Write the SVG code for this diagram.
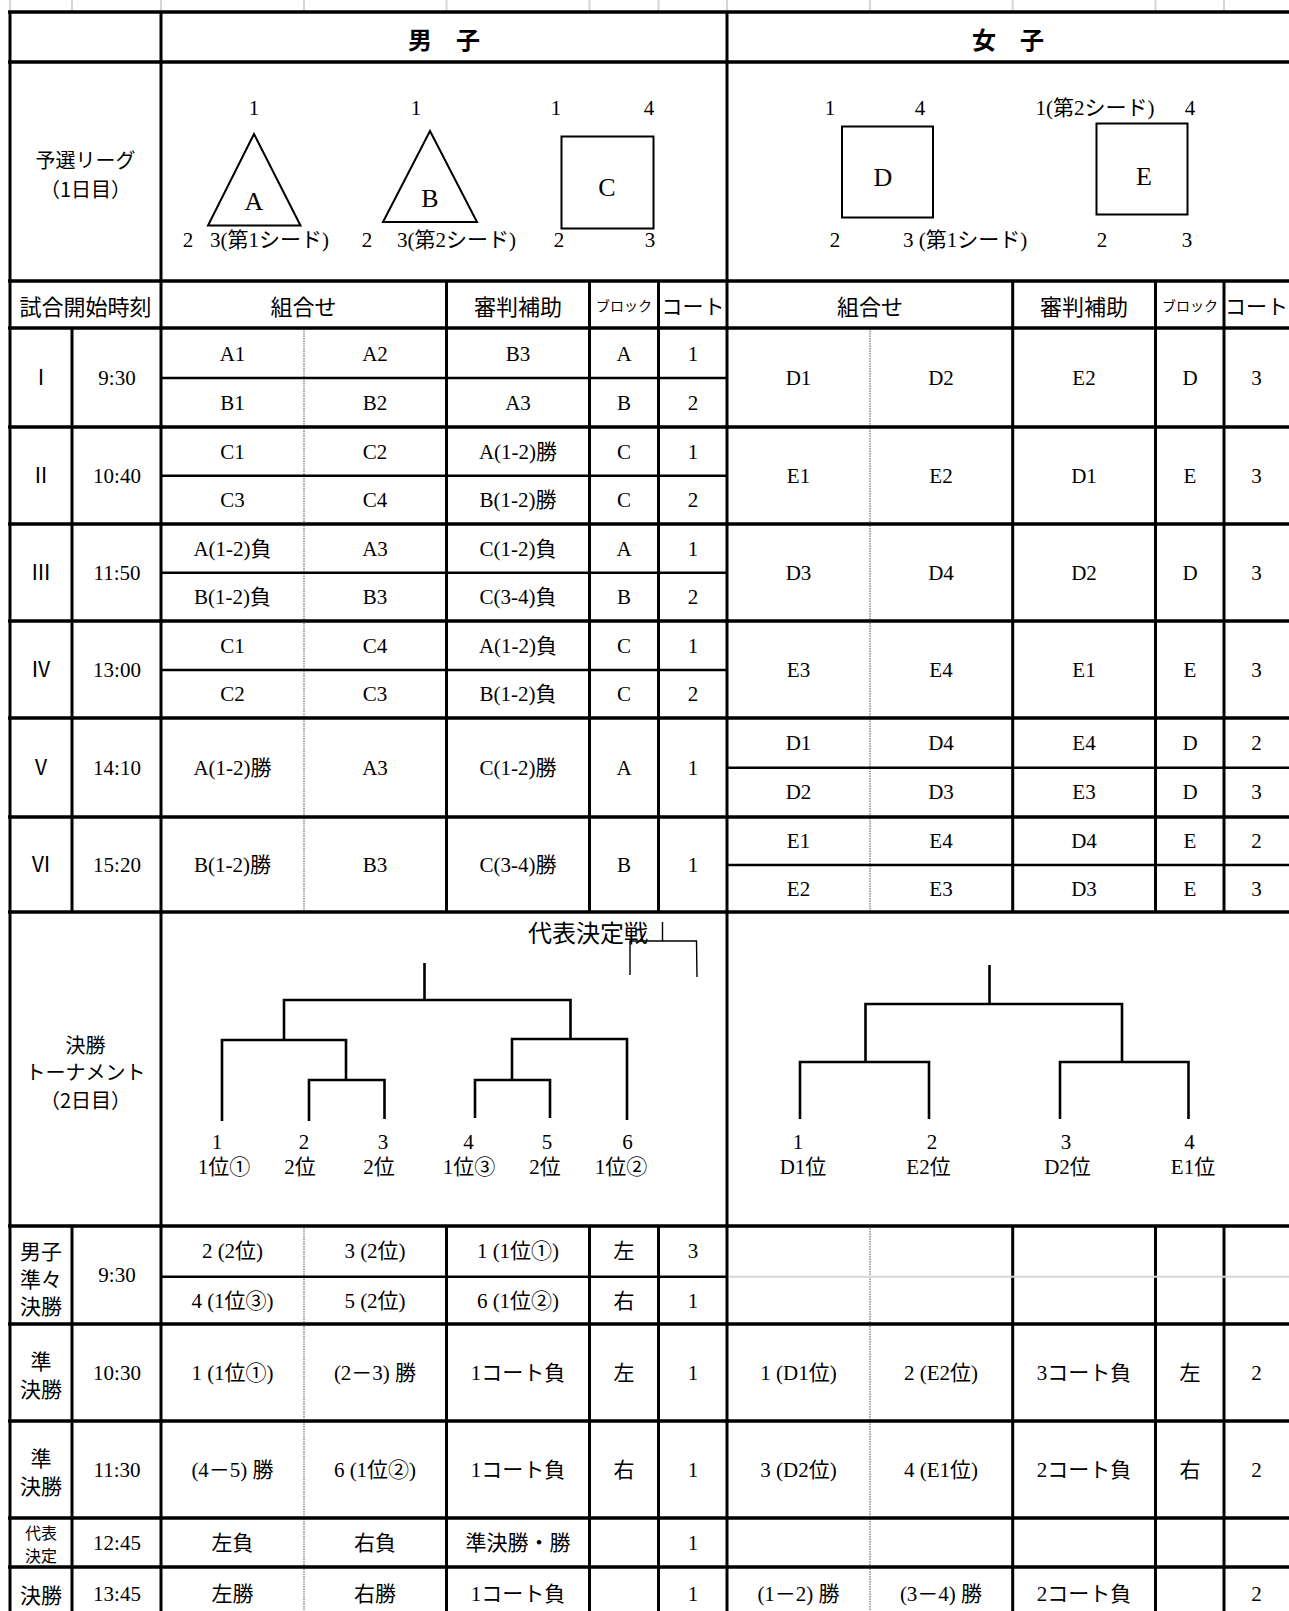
<svg xmlns="http://www.w3.org/2000/svg" width="1289" height="1611" viewBox="0 0 1289 1611">
<style>
.t{font-family:"Liberation Serif","Noto Sans CJK JP",serif;font-size:21px;fill:#000;text-anchor:middle;dominant-baseline:central}
.s{text-anchor:start}
.j{font-family:"Noto Sans CJK JP",sans-serif}
.h{font-family:"Noto Sans CJK JP",sans-serif;font-size:24px;font-weight:bold;fill:#000;text-anchor:middle;dominant-baseline:central}
.sm{font-size:14px}
.lg{font-size:26px}
.k{stroke:#000;stroke-width:3.5;fill:none}
.n{stroke:#000;stroke-width:2.5;fill:none}
.v{stroke:#000;stroke-width:3;fill:none}
.d{stroke:#8a8a8a;stroke-width:1.5;stroke-dasharray:1.5 1;fill:none}
.g{stroke:#d6d6d6;stroke-width:2;fill:none}
.br{stroke:#000;stroke-width:2.6;fill:none}
.bt{stroke:#000;stroke-width:1.4;fill:none}
.sh{stroke:#000;stroke-width:2;fill:#fff}
</style>
<rect width="1289" height="1611" fill="#fff"/>

<g id="gridticks">
<path class="g" d="M10,0V11M72,0V11M161,0V11M304,0V11M446.5,0V11M589.5,0V11M658.5,0V11M727,0V11M870,0V11M1012.7,0V11M1155.5,0V11M1224,0V11"/>
</g>

<g id="table-lines">
<path class="v" d="M10,11V1611M161,11V1611M727,11V1611"/>
<path class="v" d="M72,328V912M72,1226V1611"/>
<path class="v" d="M446.5,281V912M446.5,1226V1611M589.5,281V912M589.5,1226V1611M658.5,281V912M658.5,1226V1611"/>
<path class="v" d="M1012.7,281V912M1012.7,1226V1611M1155.5,281V912M1155.5,1226V1611M1224,281V912M1224,1226V1611"/>
<path class="d" d="M304,328V912M304,1226V1611M870,328V912M870,1226V1611"/>
<path class="k" d="M8,12H1289M8,62H1289M8,281H1289M8,328H1289M8,427H1289M8,524H1289M8,621H1289M8,718H1289M8,817H1289M8,912H1289M8,1226H1289M8,1324H1289M8,1421H1289M8,1518H1289M8,1567H1289"/>
<path class="n" d="M161,378H727M161,475.7H727M161,572.7H727M161,670H727M727,767.7H1289M727,865H1289M161,1276.7H727"/>
<path class="g" d="M729,1276.7H1289"/>
</g>

<g id="header">
<text class="h" x="444" y="38">男　子</text>
<text class="h" x="1008" y="38">女　子</text>
</g>

<g id="league">
<text class="t j" x="85.5" y="159" style="font-size:20px">予選リーグ</text>
<text class="t j" x="85.5" y="188" style="font-size:20px">（1日目）</text>
<g id="blockA">
<polygon class="sh" points="254,134 208,225.5 300.5,225.5"/>
<text class="t lg" x="254" y="201">A</text>
<text class="t" x="254" y="108">1</text>
<text class="t" x="188" y="240">2</text>
<text class="t s" x="210" y="240">3(第1シード)</text>
</g>
<g id="blockB">
<polygon class="sh" points="430,131 383,222 477,222"/>
<text class="t lg" x="430" y="198">B</text>
<text class="t" x="416" y="108">1</text>
<text class="t" x="367" y="240">2</text>
<text class="t s" x="397" y="240">3(第2シード)</text>
</g>
<g id="blockC">
<rect class="sh" x="561.5" y="136.5" width="92" height="92"/>
<text class="t lg" x="607" y="187">C</text>
<text class="t" x="556" y="108">1</text>
<text class="t" x="649" y="108">4</text>
<text class="t" x="559" y="240">2</text>
<text class="t" x="650" y="240">3</text>
</g>
<g id="blockD">
<rect class="sh" x="842" y="126.5" width="91" height="91"/>
<text class="t lg" x="883" y="177">D</text>
<text class="t" x="830" y="108">1</text>
<text class="t" x="920" y="108">4</text>
<text class="t" x="835" y="240">2</text>
<text class="t s" x="903" y="240">3 (第1シード)</text>
</g>
<g id="blockE">
<rect class="sh" x="1096.5" y="123.5" width="91" height="91"/>
<text class="t lg" x="1144" y="176">E</text>
<text class="t" x="1095" y="108">1(第2シード)</text>
<text class="t" x="1190" y="108">4</text>
<text class="t" x="1102" y="240">2</text>
<text class="t" x="1187" y="240">3</text>
</g>
</g>

<g id="colheads">
<text class="t j" x="85.5" y="305" style="font-size:22px">試合開始時刻</text>
<text class="t j" x="303.5" y="305" style="font-size:22px">組合せ</text>
<text class="t j" x="518" y="305" style="font-size:22px">審判補助</text>
<text class="t j sm" x="624" y="305">ブロック</text>
<text class="t j" x="693" y="305">コート</text>
<text class="t j" x="870" y="305" style="font-size:22px">組合せ</text>
<text class="t j" x="1084" y="305" style="font-size:22px">審判補助</text>
<text class="t j sm" x="1190" y="305">ブロック</text>
<text class="t j" x="1256.5" y="305">コート</text>
</g>

<g id="round1">
<text class="t" x="41" y="378">Ⅰ</text><text class="t" x="117" y="378">9:30</text>
<text class="t" x="232.5" y="353.5">A1</text><text class="t" x="375" y="353.5">A2</text><text class="t" x="518" y="353.5">B3</text><text class="t" x="624" y="353.5">A</text><text class="t" x="693" y="353.5">1</text>
<text class="t" x="232.5" y="402.5">B1</text><text class="t" x="375" y="402.5">B2</text><text class="t" x="518" y="402.5">A3</text><text class="t" x="624" y="402.5">B</text><text class="t" x="693" y="402.5">2</text>
<text class="t" x="798.5" y="378">D1</text><text class="t" x="941" y="378">D2</text><text class="t" x="1084" y="378">E2</text><text class="t" x="1190" y="378">D</text><text class="t" x="1256.5" y="378">3</text>
</g>
<g id="round2">
<text class="t" x="41" y="475.5">Ⅱ</text><text class="t" x="117" y="475.5">10:40</text>
<text class="t" x="232.5" y="451.5">C1</text><text class="t" x="375" y="451.5">C2</text><text class="t" x="518" y="451.5">A(1-2)勝</text><text class="t" x="624" y="451.5">C</text><text class="t" x="693" y="451.5">1</text>
<text class="t" x="232.5" y="500">C3</text><text class="t" x="375" y="500">C4</text><text class="t" x="518" y="500">B(1-2)勝</text><text class="t" x="624" y="500">C</text><text class="t" x="693" y="500">2</text>
<text class="t" x="798.5" y="475.5">E1</text><text class="t" x="941" y="475.5">E2</text><text class="t" x="1084" y="475.5">D1</text><text class="t" x="1190" y="475.5">E</text><text class="t" x="1256.5" y="475.5">3</text>
</g>
<g id="round3">
<text class="t" x="41" y="572.5">Ⅲ</text><text class="t" x="117" y="572.5">11:50</text>
<text class="t" x="232.5" y="548.5">A(1-2)負</text><text class="t" x="375" y="548.5">A3</text><text class="t" x="518" y="548.5">C(1-2)負</text><text class="t" x="624" y="548.5">A</text><text class="t" x="693" y="548.5">1</text>
<text class="t" x="232.5" y="597">B(1-2)負</text><text class="t" x="375" y="597">B3</text><text class="t" x="518" y="597">C(3-4)負</text><text class="t" x="624" y="597">B</text><text class="t" x="693" y="597">2</text>
<text class="t" x="798.5" y="572.5">D3</text><text class="t" x="941" y="572.5">D4</text><text class="t" x="1084" y="572.5">D2</text><text class="t" x="1190" y="572.5">D</text><text class="t" x="1256.5" y="572.5">3</text>
</g>
<g id="round4">
<text class="t" x="41" y="669.5">Ⅳ</text><text class="t" x="117" y="669.5">13:00</text>
<text class="t" x="232.5" y="645.5">C1</text><text class="t" x="375" y="645.5">C4</text><text class="t" x="518" y="645.5">A(1-2)負</text><text class="t" x="624" y="645.5">C</text><text class="t" x="693" y="645.5">1</text>
<text class="t" x="232.5" y="694">C2</text><text class="t" x="375" y="694">C3</text><text class="t" x="518" y="694">B(1-2)負</text><text class="t" x="624" y="694">C</text><text class="t" x="693" y="694">2</text>
<text class="t" x="798.5" y="669.5">E3</text><text class="t" x="941" y="669.5">E4</text><text class="t" x="1084" y="669.5">E1</text><text class="t" x="1190" y="669.5">E</text><text class="t" x="1256.5" y="669.5">3</text>
</g>
<g id="round5">
<text class="t" x="41" y="767.5">Ⅴ</text><text class="t" x="117" y="767.5">14:10</text>
<text class="t" x="232.5" y="767.5">A(1-2)勝</text><text class="t" x="375" y="767.5">A3</text><text class="t" x="518" y="767.5">C(1-2)勝</text><text class="t" x="624" y="767.5">A</text><text class="t" x="693" y="767.5">1</text>
<text class="t" x="798.5" y="743">D1</text><text class="t" x="941" y="743">D4</text><text class="t" x="1084" y="743">E4</text><text class="t" x="1190" y="743">D</text><text class="t" x="1256.5" y="743">2</text>
<text class="t" x="798.5" y="792">D2</text><text class="t" x="941" y="792">D3</text><text class="t" x="1084" y="792">E3</text><text class="t" x="1190" y="792">D</text><text class="t" x="1256.5" y="792">3</text>
</g>
<g id="round6">
<text class="t" x="41" y="864.5">Ⅵ</text><text class="t" x="117" y="864.5">15:20</text>
<text class="t" x="232.5" y="864.5">B(1-2)勝</text><text class="t" x="375" y="864.5">B3</text><text class="t" x="518" y="864.5">C(3-4)勝</text><text class="t" x="624" y="864.5">B</text><text class="t" x="693" y="864.5">1</text>
<text class="t" x="798.5" y="841">E1</text><text class="t" x="941" y="841">E4</text><text class="t" x="1084" y="841">D4</text><text class="t" x="1190" y="841">E</text><text class="t" x="1256.5" y="841">2</text>
<text class="t" x="798.5" y="888.5">E2</text><text class="t" x="941" y="888.5">E3</text><text class="t" x="1084" y="888.5">D3</text><text class="t" x="1190" y="888.5">E</text><text class="t" x="1256.5" y="888.5">3</text>
</g>

<g id="tournament-labels">
<text class="t j" x="85.5" y="1044" style="font-size:20px">決勝</text>
<text class="t j" x="85.5" y="1071" style="font-size:20px">トーナメント</text>
<text class="t j" x="85.5" y="1099" style="font-size:20px">（2日目）</text>
<text class="t j" x="588" y="931" style="font-size:24px">代表決定戦</text>
<text class="t" x="217" y="1141.5">1</text><text class="t" x="224" y="1167">1位①</text>
<text class="t" x="304" y="1141.5">2</text><text class="t" x="300" y="1167">2位</text>
<text class="t" x="383" y="1141.5">3</text><text class="t" x="379" y="1167">2位</text>
<text class="t" x="468.5" y="1141.5">4</text><text class="t" x="469" y="1167">1位③</text>
<text class="t" x="547" y="1141.5">5</text><text class="t" x="545" y="1167">2位</text>
<text class="t" x="627.5" y="1141.5">6</text><text class="t" x="621" y="1167">1位②</text>
<text class="t" x="798" y="1141.5">1</text><text class="t" x="803" y="1167">D1位</text>
<text class="t" x="932" y="1141.5">2</text><text class="t" x="928.5" y="1167">E2位</text>
<text class="t" x="1066" y="1141.5">3</text><text class="t" x="1067.5" y="1167">D2位</text>
<text class="t" x="1189.5" y="1141.5">4</text><text class="t" x="1193" y="1167">E1位</text>
</g>

<g id="connectors">
<path class="br" d="M424.5,963V1000M284,1040V1000H570.5V1039M222,1121V1040H346V1080M309,1121V1080H384.5V1119M627,1120V1039H512V1080M475,1118V1080H550V1118"/>
<path class="br" d="M989.5,965V1004M865.5,1062V1004H1122V1062M800,1119V1062H929V1119M1060,1119V1062H1188.5V1119"/>
<path class="bt" d="M662.5,922V941M630,975V941H696.5L697,977"/>
</g>

<g id="qf">
<text class="t j" x="41" y="1250">男子</text>
<text class="t j" x="41" y="1277.5">準々</text>
<text class="t j" x="41" y="1305">決勝</text>
<text class="t" x="117" y="1275">9:30</text>
<text class="t" x="232.5" y="1251">2 (2位)</text><text class="t" x="375" y="1251">3 (2位)</text><text class="t" x="518" y="1251">1 (1位①)</text><text class="t" x="624" y="1251">左</text><text class="t" x="693" y="1251">3</text>
<text class="t" x="232.5" y="1300.5">4 (1位③)</text><text class="t" x="375" y="1300.5">5 (2位)</text><text class="t" x="518" y="1300.5">6 (1位②)</text><text class="t" x="624" y="1300.5">右</text><text class="t" x="693" y="1300.5">1</text>
</g>
<g id="sf1">
<text class="t j" x="41" y="1360">準</text>
<text class="t j" x="41" y="1388">決勝</text>
<text class="t" x="117" y="1372.5">10:30</text>
<text class="t" x="232.5" y="1372.5">1 (1位①)</text><text class="t" x="375" y="1372.5">(2－3) 勝</text><text class="t" x="518" y="1372.5">1コート負</text><text class="t" x="624" y="1372.5">左</text><text class="t" x="693" y="1372.5">1</text>
<text class="t" x="798.5" y="1372.5">1 (D1位)</text><text class="t" x="941" y="1372.5">2 (E2位)</text><text class="t" x="1084" y="1372.5">3コート負</text><text class="t" x="1190" y="1372.5">左</text><text class="t" x="1256.5" y="1372.5">2</text>
</g>
<g id="sf2">
<text class="t j" x="41" y="1457">準</text>
<text class="t j" x="41" y="1485">決勝</text>
<text class="t" x="117" y="1469.5">11:30</text>
<text class="t" x="232.5" y="1469.5">(4－5) 勝</text><text class="t" x="375" y="1469.5">6 (1位②)</text><text class="t" x="518" y="1469.5">1コート負</text><text class="t" x="624" y="1469.5">右</text><text class="t" x="693" y="1469.5">1</text>
<text class="t" x="798.5" y="1469.5">3 (D2位)</text><text class="t" x="941" y="1469.5">4 (E1位)</text><text class="t" x="1084" y="1469.5">2コート負</text><text class="t" x="1190" y="1469.5">右</text><text class="t" x="1256.5" y="1469.5">2</text>
</g>
<g id="rep">
<text class="t j" x="41" y="1532" style="font-size:16px">代表</text>
<text class="t j" x="41" y="1555" style="font-size:16px">決定</text>
<text class="t" x="117" y="1542.5">12:45</text>
<text class="t" x="232.5" y="1542.5">左負</text><text class="t" x="375" y="1542.5">右負</text><text class="t" x="518" y="1542.5">準決勝・勝</text><text class="t" x="693" y="1542.5">1</text>
</g>
<g id="final">
<text class="t j" x="41" y="1594">決勝</text>
<text class="t" x="117" y="1594">13:45</text>
<text class="t" x="232.5" y="1594">左勝</text><text class="t" x="375" y="1594">右勝</text><text class="t" x="518" y="1594">1コート負</text><text class="t" x="693" y="1594">1</text>
<text class="t" x="798.5" y="1594">(1－2) 勝</text><text class="t" x="941" y="1594">(3－4) 勝</text><text class="t" x="1084" y="1594">2コート負</text><text class="t" x="1256.5" y="1594">2</text>
</g>
</svg>
